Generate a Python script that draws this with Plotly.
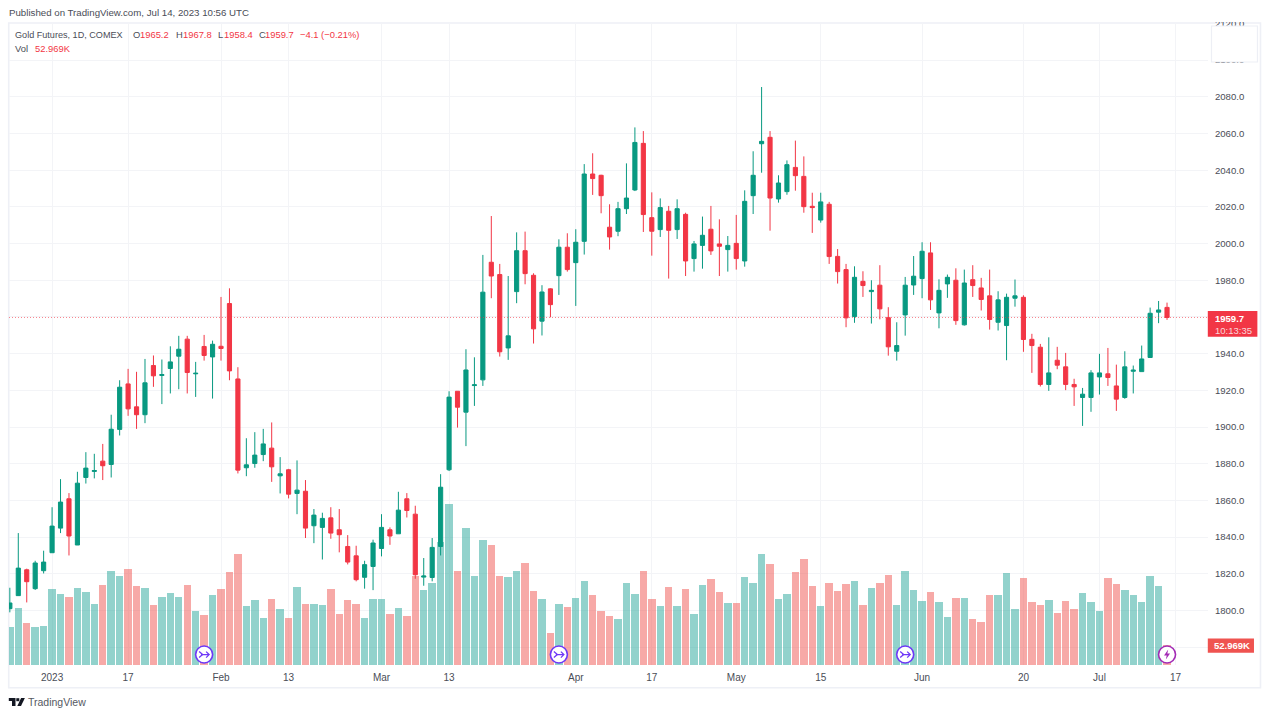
import plotly.graph_objects as go

# ---------- data ----------
opens = [1801.0,1808.1,1822.2,1811.9,1821.7,1831.5,1844.9,1860.9,1835.7,1872.5,1875.8,1881.4,1879.6,1898.7,1923.5,1911.0,1906.7,1933.5,1928.1,1931.9,
         1938.6,1947.9,1929.0,1943.9,1938.2,1944.0,1967.3,1926.2,1877.8,1880.1,1885.0,1888.5,1873.4,1876.7,1863.8,1865.0,1846.2,1845.3,1850.5,1844.0,
         1834.9,1829.8,1818.1,1824.0,1833.8,1844.0,1841.8,1860.9,1852.5,1818.2,1818.0,1834.9,1876.7,1919.5,1908.1,1922.6,1925.7,1989.8,1983.1,1943.1,
         1973.8,1996.1,1982.7,1957.7,1975.3,1982.5,1998.0,1989.6,2001.2,2037.9,2037.2,2008.9,2006.7,2019.0,2029.2,2054.6,2014.1,2007.6,2017.6,2007.6,
         2015.9,1991.8,1999.0,2007.8,1999.8,1996.7,2000.1,1990.5,2026.1,2054.4,2057.9,2024.3,2028.3,2041.5,2036.6,2020.3,2012.8,2021.4,1993.0,1985.8,
         1960.2,1979.4,1973.8,1977.3,1959.6,1941.3,1961.1,1977.4,1980.9,1994.9,1962.2,1978.0,1980.0,1955.7,1980.3,1975.8,1971.5,1957.1,1955.3,1970.2,
         1970.7,1947.8,1943.5,1923.2,1936.4,1932.8,1923.2,1916.1,1916.1,1927.3,1929.0,1922.4,1916.1,1930.4,1930.2,1937.9,1962.6,1965.2]
highs = [1812.4,1842.2,1822.8,1827.1,1832.6,1856.3,1871.6,1864.0,1875.6,1886.3,1885.4,1890.8,1906.7,1925.5,1931.7,1930.1,1937.1,1939.0,1936.8,1944.0,
         1949.7,1949.7,1935.5,1950.2,1947.1,1970.9,1975.6,1932.6,1893.9,1897.2,1899.0,1902.5,1883.6,1877.2,1881.8,1871.1,1855.3,1853.3,1856.3,1855.3,
         1841.1,1835.3,1827.1,1838.6,1852.5,1845.3,1864.7,1864.0,1857.1,1828.6,1839.5,1874.3,1919.5,1919.5,1942.4,1938.0,1993.8,2015.0,1988.9,1982.3,
         2006.1,2006.5,1983.8,1977.3,1975.6,2002.3,2005.6,2007.8,2043.3,2049.2,2037.5,2021.4,2022.7,2043.7,2063.3,2061.3,2027.9,2024.6,2020.5,2024.1,
         2016.8,2001.4,2014.7,2020.5,2013.2,2004.1,2015.6,2029.0,2050.3,2085.3,2061.3,2037.2,2045.3,2056.1,2047.5,2027.7,2027.7,2022.7,1997.0,1988.9,
         1987.6,1984.9,1980.0,1988.2,1965.3,1957.1,1981.8,1993.2,2000.7,2000.7,1980.5,1983.1,1986.5,1985.8,1988.2,1981.3,1985.8,1974.0,1972.7,1980.4,
         1971.8,1950.8,1945.3,1948.9,1943.7,1940.4,1926.3,1921.3,1931.0,1939.9,1943.1,1934.0,1941.3,1933.5,1944.4,1965.1,1968.7,1967.8]
lows = [1799.0,1808.0,1804.4,1811.2,1820.2,1831.5,1842.2,1830.0,1835.7,1869.2,1872.0,1871.1,1872.5,1895.4,1906.1,1899.0,1902.1,1921.9,1912.5,1918.3,
        1920.6,1918.3,1916.4,1936.2,1915.5,1936.2,1925.5,1874.7,1873.2,1877.8,1881.4,1870.1,1863.8,1861.1,1852.5,1839.5,1836.7,1827.8,1839.1,1831.7,
        1825.1,1815.9,1811.9,1811.1,1829.5,1835.8,1841.8,1850.7,1817.3,1813.5,1815.9,1830.0,1876.0,1899.7,1889.6,1911.5,1922.4,1970.2,1938.4,1936.6,
        1967.5,1977.8,1945.5,1949.9,1959.8,1972.0,1984.7,1966.0,1994.0,2026.5,2016.5,1996.7,2004.0,2016.1,2028.6,2006.3,1993.4,2003.6,1980.9,2002.5,
        1982.3,1984.7,1986.3,1993.8,1982.3,1984.7,1985.8,1987.4,2016.1,2038.6,2007.0,2022.3,2026.6,2028.8,2016.8,2005.8,2011.4,1988.9,1978.2,1954.4,
        1956.8,1970.9,1956.4,1958.7,1938.9,1936.2,1949.8,1972.0,1970.2,1963.8,1953.8,1970.4,1955.7,1955.3,1970.9,1963.5,1953.1,1952.6,1936.4,1965.6,
        1941.0,1929.5,1922.1,1919.7,1931.5,1920.1,1911.5,1900.6,1908.3,1917.7,1922.4,1908.8,1915.4,1918.3,1930.2,1937.9,1956.6,1958.4]
closes = [1804.1,1823.1,1815.7,1825.9,1826.4,1846.0,1859.1,1840.6,1869.4,1877.6,1876.3,1878.9,1898.8,1921.7,1909.9,1906.7,1924.1,1927.9,1928.6,1935.5,
          1942.4,1929.7,1929.3,1939.0,1945.1,1942.8,1930.6,1876.5,1879.4,1884.7,1890.8,1878.3,1874.5,1863.4,1865.6,1844.9,1852.0,1850.2,1842.2,1841.3,
          1826.4,1816.8,1825.0,1836.8,1845.3,1840.6,1854.7,1854.5,1819.5,1818.8,1834.4,1867.2,1916.3,1910.8,1931.1,1923.0,1973.5,1982.3,1941.0,1949.7,
          1996.1,1983.6,1953.5,1973.6,1966.7,1998.0,1985.8,2000.7,2037.9,2035.4,2026.1,2003.6,2019.0,2024.8,2055.1,2015.8,2006.7,2019.6,2007.2,2019.0,
          1990.5,1999.8,2004.5,1996.0,1998.5,1999.0,1991.8,2023.0,2037.2,2055.7,2024.8,2033.0,2043.0,2037.0,2020.1,2019.6,2022.7,1992.9,1984.7,1959.5,
          1981.6,1977.1,1974.5,1964.4,1943.7,1944.4,1977.3,1982.2,1995.8,1969.3,1974.5,1981.6,1958.0,1978.5,1977.1,1969.5,1958.6,1969.3,1970.7,1971.5,
          1947.7,1944.4,1923.2,1929.5,1933.7,1923.2,1921.9,1917.9,1929.5,1929.5,1927.0,1915.2,1932.8,1931.0,1937.1,1962.0,1963.8,1959.7]
volumes = [102,151.7,112.6,102,103.8,202.2,188.9,181,204.9,194.3,163.2,212,251,236,255.5,209.3,204.9,158.8,181,191.6,
           181,212,143.7,132.2,185.4,201.3,247.5,295.4,157,172.1,126,174.7,148.1,126,206.7,161.4,161.4,158.8,201.3,134.8,
           172.1,161.4,126,176.5,174.7,134.8,152.6,130.4,236,198.7,218.2,328.2,427.5,249.2,365.4,236,332.6,319.3,236,233.3,
           249.2,271.4,196,174.7,86,163.2,154.3,178.3,222.6,187.2,143.7,130.4,121.5,218.2,188.9,249.2,174.7,157,207.6,157,
           201.3,134.8,212,228.8,194.3,165,165,233.3,218.2,295.4,268.8,174.7,188.9,247.5,282.1,209.3,157,218.2,196.9,215.5,
           222.6,158.8,204.9,218.2,240.4,158.8,251,198.7,169.4,194.3,167.6,127.7,178.3,178.3,123.3,114.4,185.4,187.2,244.8,149.9,
           231.5,167.6,158.8,172.1,138.4,169.4,148.1,191.6,167.6,143.7,231.5,215.5,198.7,185.4,167.6,237.7,209.3,52.969]
bar_index = list(range(len(closes)))

time_tick_index = [5,14,25,33,44,52,67,76,86,96,108,120,129,138]
time_tick_text = ["2023","17","Feb","13","Mar","13","Apr","17","May","15","Jun","20","Jul","17"]
price_ticks = [1780 + 20*k for k in range(18)]
hidden_price_labels = [1780, 1960]   # sit behind the volume and last-price tags
price_text = ["" if p in hidden_price_labels else f"{p:.1f}" for p in price_ticks]

event_index = [23, 65, 106]
event_level = [28, 28, 28]
flash_index = [137]
flash_level = [28]

# ---------- frame ----------
W, H = 1269, 717
L, R, T, B = 8.5, 1208.0, 23.0, 665.0
FONT = "Liberation Sans"
GREEN, RED = "#089981", "#F23645"
VOL_G, VOL_R = "rgba(38,166,154,0.5)", "rgba(239,83,80,0.5)"
GRID = "#F3F4F7"
INK = "#4A4D57"

px = lambda x: (x - L) / (R - L)
py = lambda y: 1 - (y - T) / (B - T)

def rect(x0, y0, x1, y1, **kw):
    return dict(type="rect", xref="paper", yref="paper", x0=px(x0), x1=px(x1), y0=py(y1), y1=py(y0), **kw)

def path(points, **kw):
    d = " ".join(f"{c}{px(x):.6f},{py(y):.6f}" for c, x, y in points)
    return dict(type="path", xref="paper", yref="paper", path=d, **kw)

def text(x, y, s, color=INK, size=9.7, anchor="left", bold=False):
    return dict(xref="paper", yref="paper", x=px(x - 1), y=py(y), text=f"<b>{s}</b>" if bold else s,
                showarrow=False, xanchor=anchor, yanchor="middle", borderpad=0,
                font=dict(family=FONT, size=size, color=color))

fig = go.Figure()
fig.add_trace(go.Bar(x=bar_index, y=volumes, yaxis="y", width=0.88,
                     marker=dict(color=[VOL_G if c >= o else VOL_R for o, c in zip(opens, closes)], line_width=0),
                     hoverinfo="skip"))
fig.add_trace(go.Scatter(x=event_index, y=event_level, yaxis="y", mode="markers", hoverinfo="skip",
                         marker=dict(size=17, color="white", line=dict(color="#6E38F7", width=1.6))))
fig.add_trace(go.Scatter(x=flash_index, y=flash_level, yaxis="y", mode="markers", hoverinfo="skip",
                         marker=dict(size=17, color="white", line=dict(color="#A32BB5", width=1.6))))
fig.add_trace(go.Candlestick(x=bar_index, open=opens, high=highs, low=lows, close=closes, yaxis="y2",
                             increasing=dict(line=dict(color=GREEN, width=1), fillcolor=GREEN),
                             decreasing=dict(line=dict(color=RED, width=1), fillcolor=RED),
                             whiskerwidth=0, hoverinfo="skip"))

shapes = [
    rect(8.2, 23, 1260.5, 687.8, line=dict(color="#EEF0F6", width=1.6), fillcolor="rgba(0,0,0,0)", layer="below"),
    dict(type="line", xref="paper", yref="y2", x0=0, x1=1, y0=closes[-1], y1=closes[-1],
         line=dict(color="rgba(242,54,69,0.6)", width=1, dash="1px,2px"), layer="above"),
    rect(1207.8, 311, 1257.4, 336.8, line_width=0, fillcolor=RED, layer="above"),
    rect(1207.8, 638.4, 1254, 652.8, line_width=0, fillcolor="#EF5350", layer="above"),
    rect(1209, 14, 1259, 22, line_width=0, fillcolor="white", layer="above"),
    rect(1211.5, 26, 1257.5, 62, line=dict(color="#EDEFF5", width=1.2), fillcolor="white", layer="above"),
    # TradingView logo
    path([("M", 8.3, 698), ("L", 15, 698), ("L", 15, 706), ("L", 11.5, 706), ("L", 11.5, 701), ("L", 8.3, 701)],
         fillcolor="#131722", line_width=0, layer="above"),
    path([("M", 24.4, 698), ("L", 20.5, 706), ("L", 16.8, 706), ("L", 20.6, 698)],
         fillcolor="#131722", line_width=0, layer="above"),
    rect(15.8, 698.2, 18.8, 701.2, fillcolor="#131722", line_width=0, layer="above"),
]
# event glyphs
for i in event_index:
    cx, cy = 9.35 + 8.45 * i, 654.6
    shapes.append(path([("M", cx - 5, cy - 3), ("L", cx - 1.5, cy), ("L", cx - 5, cy + 3)],
                       line=dict(color="#6E38F7", width=1.3), layer="above"))
    shapes.append(path([("M", cx - 3, cy), ("L", cx + 5, cy), ("M", cx + 2, cy - 3), ("L", cx + 5, cy), ("L", cx + 2, cy + 3)],
                       line=dict(color="#6E38F7", width=1.3), layer="above"))
for i in flash_index:
    cx, cy = 9.35 + 8.45 * i, 654.6
    shapes.append(path([("M", cx + 1.2, cy - 5), ("L", cx - 3, cy + 1), ("L", cx - 0.3, cy + 1), ("L", cx - 1.2, cy + 5),
                        ("L", cx + 3, cy - 1), ("L", cx + 0.3, cy - 1)],
                       fillcolor="#A32BB5", line_width=0, layer="above"))

annotations = [
    text(8.3, 12.2, "Published on TradingView.com, Jul 14, 2023 10:56 UTC"),
    text(15, 34.7, "Gold Futures, 1D, COMEX", size=9.1),
    text(133, 34.7, "O", size=9.4), text(140, 34.7, "1965.2", RED, 9.4),
    text(175.3, 34.7, "H", size=9.4), text(182.3, 34.7, "1967.8", RED, 9.4),
    text(217.3, 34.7, "L", size=9.4), text(223.3, 34.7, "1958.4", RED, 9.4),
    text(258.3, 34.7, "C", size=9.4), text(265, 34.7, "1959.7", RED, 9.4),
    text(300, 34.7, "−4.1 (−0.21%)", RED, 9.4),
    text(15, 48.7, "Vol", size=9.4), text(34.7, 48.7, "52.969K", RED, 9.4),
    text(1215.5, 318, "1959.7", "white", 9.5, bold=True),
    text(1215.5, 330, "10:13:35", "#FAD7DA", 9.5),
    text(1214.5, 645.6, "52.969K", "white", 9.5, bold=True),
    text(27.7, 702.3, "TradingView", "#555862", 10.5),
]

fig.update_layout(
    width=W, height=H, autosize=False, showlegend=False,
    paper_bgcolor="white", plot_bgcolor="white",
    margin=dict(l=L, r=W - R, t=T, b=H - B, pad=0),
    bargap=0, boxgap=0.3,
    font=dict(family=FONT, size=10, color=INK),
    xaxis=dict(range=[-0.1, 141.85], tickvals=time_tick_index, ticktext=time_tick_text, showgrid=True,
               gridcolor=GRID, gridwidth=1, zeroline=False, showline=False, ticks="outside", ticklen=3,
               tickcolor="rgba(0,0,0,0)", rangeslider=dict(visible=False), tickfont=dict(size=10, color=INK)),
    yaxis=dict(range=[0, 1708], visible=False, showgrid=False, zeroline=False),
    yaxis2=dict(range=[1770.3, 2120.2], overlaying="y", side="right", tickvals=price_ticks, ticktext=price_text,
                showgrid=True, gridcolor=GRID, gridwidth=1, zeroline=False, showline=False, ticks="outside",
                ticklen=4, tickcolor="rgba(0,0,0,0)", tickfont=dict(size=9.6, color=INK)),
    shapes=shapes, annotations=annotations,
)
fig.write_html("out.html", config=dict(displayModeBar=False),
               post_script="document.body.style.margin='0';document.documentElement.style.overflow='hidden';")
